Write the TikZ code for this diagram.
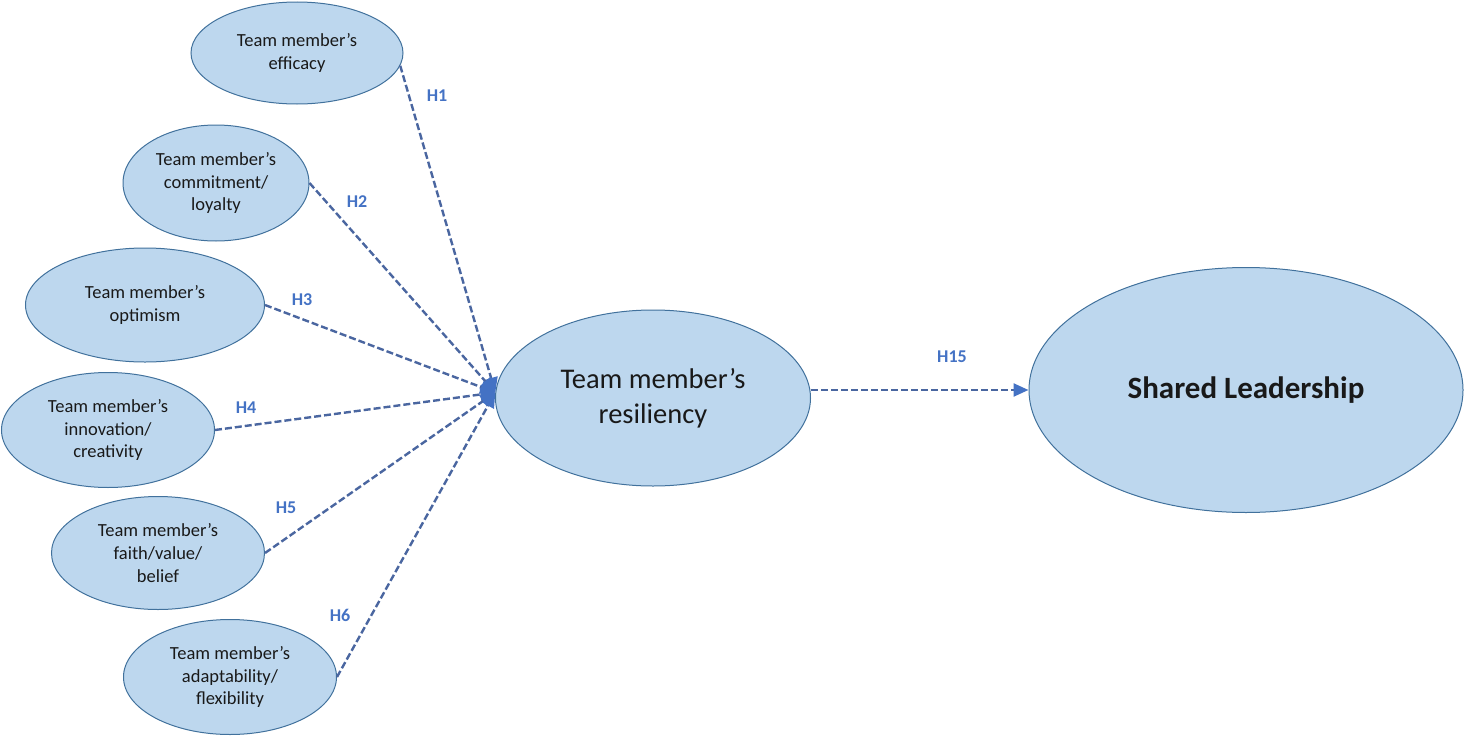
\documentclass[tikz,border=0pt]{standalone}
\usepackage{fontspec}
\setmainfont{Carlito}
\usetikzlibrary{shapes.geometric,arrows.meta}
\definecolor{ovalfill}{HTML}{BDD7EE}
\definecolor{ovalline}{HTML}{41719C}
\definecolor{linkblue}{HTML}{4A66A0}
\definecolor{tipblue}{HTML}{4472C4}

\begin{document}
\begin{tikzpicture}[x=1pt, y=-1pt,
   factor/.style ={ellipse, draw=ovalline, fill=ovalfill, line width=1pt, inner sep=0pt, align=center, text=black!90,
                   minimum width=213pt, minimum height=115pt, font=\fontsize{18.5}{22.6}\selectfont},
   link/.style ={draw=linkblue, line width=2.4pt, dash pattern=on 7pt off 3pt,
                 -{Triangle[length=15pt, width=13pt, fill=tipblue, color=tipblue]}},
   hyp/.style ={text=tipblue, font=\fontsize{18}{21}\selectfont\bfseries}]
   \useasboundingbox (0,0) rectangle (1464,736);

   \node[factor, minimum width=212pt, minimum height=102pt] (A) at (297,53) {Team member’s\\efficacy};
   \node[factor, minimum width=186pt, minimum height=116pt] (B) at (216,183) {Team member’s\\commitment/\\loyalty};
   \node[factor, minimum width=239pt, minimum height=114pt] (C) at (145,305) {Team member’s\\optimism};
   \node[factor] (D) at (108,430) {Team member’s\\innovation/\\creativity};
   \node[factor, minimum height=113pt] (E) at (158,553) {Team member’s\\faith/value/\\belief};
   \node[factor] (F) at (230,677) {Team member’s\\adaptability/\\flexibility};

   \node[factor, minimum width=315pt, minimum height=176pt, font=\fontsize{28.5}{35}\selectfont] (R) at (653,398) {Team member’s\\resiliency};
   \node[factor, minimum width=434pt, minimum height=245pt, font=\fontsize{31}{38}\selectfont\bfseries] (S) at (1246,390) {Shared Leadership};

   \draw[link] (A.-7)  to (R.178);
   \draw[link] (B.east) to (R.178);
   \draw[link] (C.east) to (R.178);
   \draw[link] (D.east) to (R.178);
   \draw[link] (E.east) to (R.178);
   \draw[link] (F.east) to (R.178);
   \draw[link] (R.east |- S.west) to (S.west);

   \node[hyp] (h1)  at (437,96)  {H1};
   \node[hyp] (h2)  at (357,202) {H2};
   \node[hyp] (h3)  at (302,300) {H3};
   \node[hyp] (h4)  at (246,408) {H4};
   \node[hyp] (h5)  at (286,508) {H5};
   \node[hyp] (h6)  at (340,615) {H6};
   \node[hyp] (h15) at (952,357) {H15};
\end{tikzpicture}
\end{document}
